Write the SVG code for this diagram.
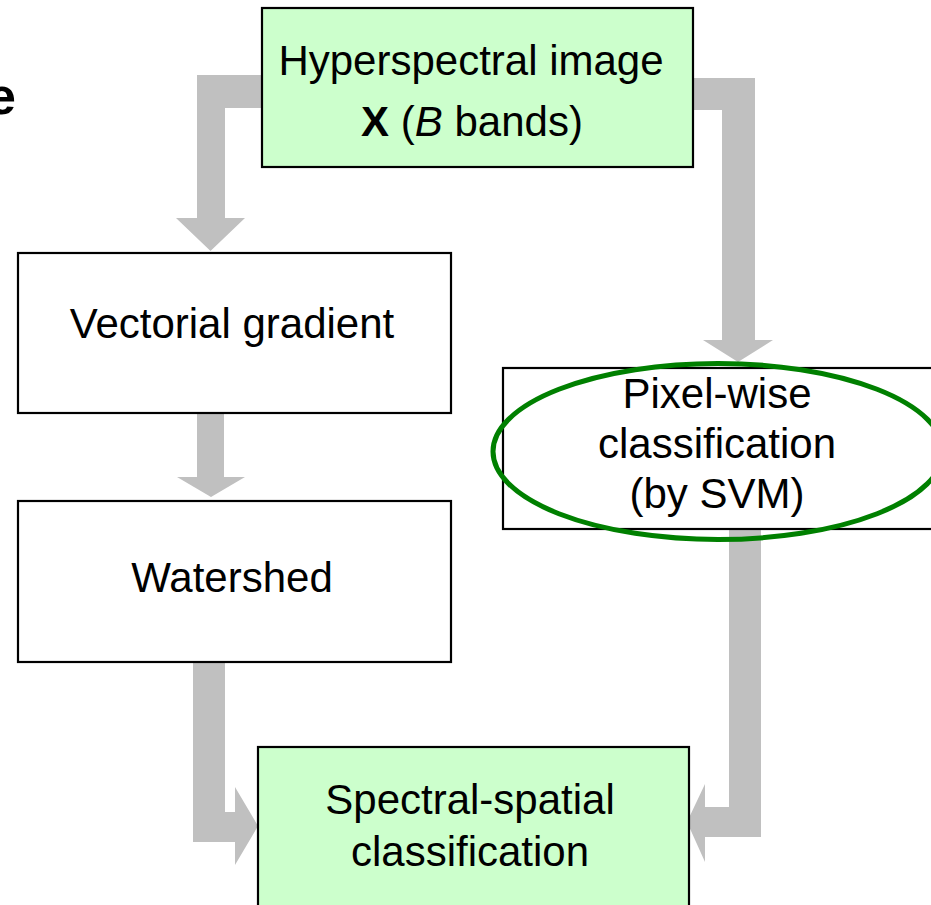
<svg xmlns="http://www.w3.org/2000/svg" width="931" height="905" viewBox="0 0 931 905">
<style>
.box{stroke:#000;stroke-width:2.2}
.green{fill:#CCFFCC}
.white{fill:#fff}
.arr{fill:#C0C0C0;stroke:none}
text{font-family:"Liberation Sans",Arial,sans-serif;font-size:42px;fill:#000;text-anchor:middle}
</style>
<rect width="931" height="905" fill="#fff"/>
<text x="-13" y="114" style="font-size:52px;font-weight:bold;text-anchor:start">e</text>
<g id="connectors">
<polygon class="arr" points="262,75 197,75 197,218 176,218 210.5,251 245,218 225,218 225,108 262,108"/>
<polygon class="arr" points="693,78 755,78 755,340 773,340 738,362 703,340 722,340 722,110 693,110"/>
<polygon class="arr" points="197,413 224,413 224,477 245,477 211,497 177,477 197,477"/>
<polygon class="arr" points="193,662 225,662 225,812 235,812 235,787 258,826 235,865 235,842 193,842"/>
<polygon class="arr" points="761,530 729,530 729,807 705,807 705,784 687,822 705,862 705,837 761,837"/>
</g>
<g id="hyperspectral">
<rect class="box green" x="262" y="8" width="431" height="159"/>
<text x="471" y="75">Hyperspectral image</text>
<text x="472" y="136"><tspan font-weight="bold">X</tspan> (<tspan font-style="italic">B</tspan> bands)</text>
</g>
<g id="vectorial">
<rect class="box white" x="18" y="253" width="433" height="160"/>
<text x="232" y="338">Vectorial gradient</text>
</g>
<g id="watershed">
<rect class="box white" x="18" y="501" width="433" height="161"/>
<text x="232" y="592">Watershed</text>
</g>
<g id="pixelwise">
<rect class="box white" x="503" y="368" width="432" height="161"/>
<text x="717" y="408">Pixel-wise</text>
<text x="717" y="458">classification</text>
<text x="717" y="508">(by SVM)</text>
</g>
<g id="spectralspatial">
<rect class="box green" x="258" y="747" width="431" height="170"/>
<text x="470" y="814">Spectral-spatial</text>
<text x="470" y="866">classification</text>
</g>
<g id="highlight">
<ellipse cx="718" cy="451.5" rx="225" ry="88" fill="none" stroke="#008000" stroke-width="5"/>
</g>
</svg>
